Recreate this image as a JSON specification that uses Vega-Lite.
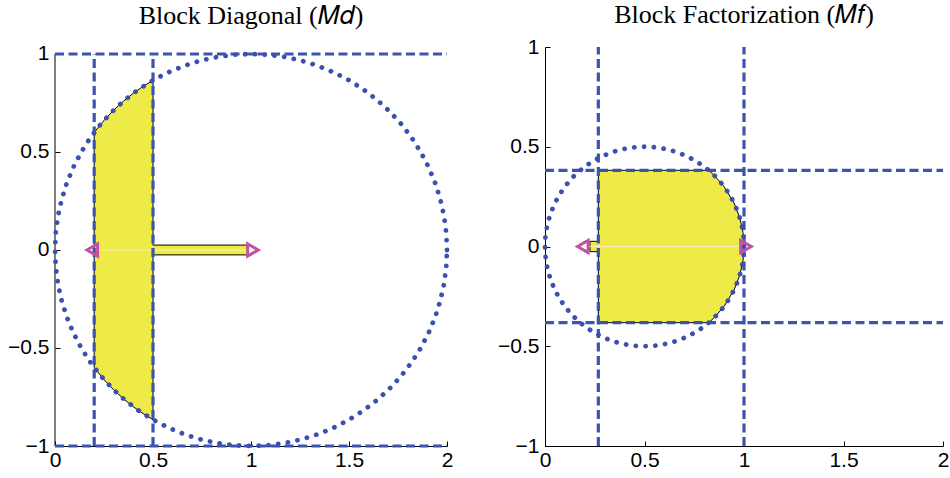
{
  "$schema": "https://vega.github.io/schema/vega-lite/v6.json",
  "background": "white",
  "padding": {"left": 7, "top": 2, "right": 5, "bottom": 0},
  "spacing": 40,
  "config": {
    "view": {"stroke": null},
    "axis": {
      "grid": false, "domainColor": "black", "domainWidth": 1, "tickColor": "black", "tickWidth": 1,
      "tickSize": -5, "labelFont": "Liberation Sans", "labelFontSize": 21, "labelColor": "black",
      "title": null, "labelFlush": false, "labelOverlap": false, "format": "~g"
    },
    "title": {"font": "Liberation Serif", "fontSize": 26, "fontWeight": "normal", "color": "black", "frame": "group", "baseline": "alphabetic", "anchor": "middle"}
  },
  "datasets": {
    "circleL": [
      {"i":0,"x":2,"y":0},{"i":1,"x":1.9962,"y":0.0872},{"i":2,"x":1.9848,"y":0.1736},{"i":3,"x":1.9659,"y":0.2588},{"i":4,"x":1.9397,"y":0.342},{"i":5,"x":1.9063,"y":0.4226},{"i":6,"x":1.866,"y":0.5},{"i":7,"x":1.8192,"y":0.5736},{"i":8,"x":1.766,"y":0.6428},{"i":9,"x":1.7071,"y":0.7071},{"i":10,"x":1.6428,"y":0.766},{"i":11,"x":1.5736,"y":0.8192},{"i":12,"x":1.5,"y":0.866},{"i":13,"x":1.4226,"y":0.9063},{"i":14,"x":1.342,"y":0.9397},{"i":15,"x":1.2588,"y":0.9659},{"i":16,"x":1.1736,"y":0.9848},{"i":17,"x":1.0872,"y":0.9962},{"i":18,"x":1,"y":1},{"i":19,"x":0.9128,"y":0.9962},{"i":20,"x":0.8264,"y":0.9848},{"i":21,"x":0.7412,"y":0.9659},{"i":22,"x":0.658,"y":0.9397},{"i":23,"x":0.5774,"y":0.9063},{"i":24,"x":0.5,"y":0.866},{"i":25,"x":0.4264,"y":0.8192},{"i":26,"x":0.3572,"y":0.766},{"i":27,"x":0.2929,"y":0.7071},{"i":28,"x":0.234,"y":0.6428},{"i":29,"x":0.1808,"y":0.5736},{"i":30,"x":0.134,"y":0.5},{"i":31,"x":0.0937,"y":0.4226},{"i":32,"x":0.0603,"y":0.342},{"i":33,"x":0.0341,"y":0.2588},{"i":34,"x":0.0152,"y":0.1736},{"i":35,"x":0.0038,"y":0.0872},{"i":36,"x":0,"y":0},{"i":37,"x":0.0038,"y":-0.0872},{"i":38,"x":0.0152,"y":-0.1736},{"i":39,"x":0.0341,"y":-0.2588},{"i":40,"x":0.0603,"y":-0.342},{"i":41,"x":0.0937,"y":-0.4226},{"i":42,"x":0.134,"y":-0.5},{"i":43,"x":0.1808,"y":-0.5736},{"i":44,"x":0.234,"y":-0.6428},{"i":45,"x":0.2929,"y":-0.7071},{"i":46,"x":0.3572,"y":-0.766},{"i":47,"x":0.4264,"y":-0.8192},{"i":48,"x":0.5,"y":-0.866},{"i":49,"x":0.5774,"y":-0.9063},{"i":50,"x":0.658,"y":-0.9397},{"i":51,"x":0.7412,"y":-0.9659},{"i":52,"x":0.8264,"y":-0.9848},{"i":53,"x":0.9128,"y":-0.9962},{"i":54,"x":1,"y":-1},{"i":55,"x":1.0872,"y":-0.9962},{"i":56,"x":1.1736,"y":-0.9848},{"i":57,"x":1.2588,"y":-0.9659},{"i":58,"x":1.342,"y":-0.9397},{"i":59,"x":1.4226,"y":-0.9063},{"i":60,"x":1.5,"y":-0.866},{"i":61,"x":1.5736,"y":-0.8192},{"i":62,"x":1.6428,"y":-0.766},{"i":63,"x":1.7071,"y":-0.7071},{"i":64,"x":1.766,"y":-0.6428},{"i":65,"x":1.8192,"y":-0.5736},{"i":66,"x":1.866,"y":-0.5},{"i":67,"x":1.9063,"y":-0.4226},{"i":68,"x":1.9397,"y":-0.342},{"i":69,"x":1.9659,"y":-0.2588},{"i":70,"x":1.9848,"y":-0.1736},{"i":71,"x":1.9962,"y":-0.0872},{"i":72,"x":2,"y":0}
    ],
    "circleR": [
      {"i":0,"x":1,"y":0},{"i":1,"x":0.9981,"y":0.0436},{"i":2,"x":0.9924,"y":0.0868},{"i":3,"x":0.983,"y":0.1294},{"i":4,"x":0.9698,"y":0.171},{"i":5,"x":0.9532,"y":0.2113},{"i":6,"x":0.933,"y":0.25},{"i":7,"x":0.9096,"y":0.2868},{"i":8,"x":0.883,"y":0.3214},{"i":9,"x":0.8536,"y":0.3536},{"i":10,"x":0.8214,"y":0.383},{"i":11,"x":0.7868,"y":0.4096},{"i":12,"x":0.75,"y":0.433},{"i":13,"x":0.7113,"y":0.4532},{"i":14,"x":0.671,"y":0.4698},{"i":15,"x":0.6294,"y":0.483},{"i":16,"x":0.5868,"y":0.4924},{"i":17,"x":0.5436,"y":0.4981},{"i":18,"x":0.5,"y":0.5},{"i":19,"x":0.4564,"y":0.4981},{"i":20,"x":0.4132,"y":0.4924},{"i":21,"x":0.3706,"y":0.483},{"i":22,"x":0.329,"y":0.4698},{"i":23,"x":0.2887,"y":0.4532},{"i":24,"x":0.25,"y":0.433},{"i":25,"x":0.2132,"y":0.4096},{"i":26,"x":0.1786,"y":0.383},{"i":27,"x":0.1464,"y":0.3536},{"i":28,"x":0.117,"y":0.3214},{"i":29,"x":0.0904,"y":0.2868},{"i":30,"x":0.067,"y":0.25},{"i":31,"x":0.0468,"y":0.2113},{"i":32,"x":0.0302,"y":0.171},{"i":33,"x":0.017,"y":0.1294},{"i":34,"x":0.0076,"y":0.0868},{"i":35,"x":0.0019,"y":0.0436},{"i":36,"x":0,"y":0},{"i":37,"x":0.0019,"y":-0.0436},{"i":38,"x":0.0076,"y":-0.0868},{"i":39,"x":0.017,"y":-0.1294},{"i":40,"x":0.0302,"y":-0.171},{"i":41,"x":0.0468,"y":-0.2113},{"i":42,"x":0.067,"y":-0.25},{"i":43,"x":0.0904,"y":-0.2868},{"i":44,"x":0.117,"y":-0.3214},{"i":45,"x":0.1464,"y":-0.3536},{"i":46,"x":0.1786,"y":-0.383},{"i":47,"x":0.2132,"y":-0.4096},{"i":48,"x":0.25,"y":-0.433},{"i":49,"x":0.2887,"y":-0.4532},{"i":50,"x":0.329,"y":-0.4698},{"i":51,"x":0.3706,"y":-0.483},{"i":52,"x":0.4132,"y":-0.4924},{"i":53,"x":0.4564,"y":-0.4981},{"i":54,"x":0.5,"y":-0.5},{"i":55,"x":0.5436,"y":-0.4981},{"i":56,"x":0.5868,"y":-0.4924},{"i":57,"x":0.6294,"y":-0.483},{"i":58,"x":0.671,"y":-0.4698},{"i":59,"x":0.7113,"y":-0.4532},{"i":60,"x":0.75,"y":-0.433},{"i":61,"x":0.7868,"y":-0.4096},{"i":62,"x":0.8214,"y":-0.383},{"i":63,"x":0.8536,"y":-0.3536},{"i":64,"x":0.883,"y":-0.3214},{"i":65,"x":0.9096,"y":-0.2868},{"i":66,"x":0.933,"y":-0.25},{"i":67,"x":0.9532,"y":-0.2113},{"i":68,"x":0.9698,"y":-0.171},{"i":69,"x":0.983,"y":-0.1294},{"i":70,"x":0.9924,"y":-0.0868},{"i":71,"x":0.9981,"y":-0.0436},{"i":72,"x":1,"y":0}
    ],
    "regionL": [
      {"x":0.2,"y":-0.6,"y2":0.6},{"x":0.25,"y":-0.6614,"y2":0.6614},{"x":0.3,"y":-0.7141,"y2":0.7141},{"x":0.35,"y":-0.7599,"y2":0.7599},{"x":0.4,"y":-0.8,"y2":0.8},{"x":0.45,"y":-0.8352,"y2":0.8352},{"x":0.5,"y":-0.866,"y2":0.866},{"x":0.5001,"y":-0.025,"y2":0.025},{"x":0.985,"y":-0.025,"y2":0.025}
    ],
    "regionR": [
      {"x":0.226,"y":-0.026,"y2":0.026},{"x":0.268,"y":-0.026,"y2":0.026},{"x":0.2681,"y":-0.382,"y2":0.382},{"x":0.8225,"y":-0.382,"y2":0.382},{"x":0.85,"y":-0.357,"y2":0.357},{"x":0.9,"y":-0.3,"y2":0.3},{"x":0.95,"y":-0.218,"y2":0.218},{"x":0.98,"y":-0.14,"y2":0.14},{"x":0.995,"y":-0.0705,"y2":0.0705},{"x":1,"y":0,"y2":0}
    ],
    "axisL": [
      {"x":0,"x2":0,"y":-1,"y2":1}
    ],
    "dashL": [
      {"x":0.2,"x2":0.2,"y":-1,"y2":1},{"x":0.5,"x2":0.5,"y":-1,"y2":1},{"x":0,"x2":2,"y":1,"y2":1},{"x":0,"x2":2,"y":-1,"y2":-1}
    ],
    "dashR": [
      {"x":0.268,"x2":0.268,"y":-1,"y2":1},{"x":1,"x2":1,"y":-1,"y2":1},{"x":0,"x2":2,"y":0.382,"y2":0.382},{"x":0,"x2":2,"y":-0.382,"y2":-0.382}
    ],
    "axisLine": [
      {"x":0.19,"x2":1.01,"y":0,"y2":0}
    ],
    "markers": [
      {"x":0.19,"y":0,"dir":"left"},{"x":1.01,"y":0,"dir":"right"}
    ]
  },
  "hconcat": [
    {
      "width": 392, "height": 399,
      "title": {"text": "Block Diagonal (𝑀𝑑)", "offset": 14},
      "encoding": {
        "x": {"field": "x", "type": "quantitative", "scale": {"domain": [0, 2], "nice": false, "zero": false}, "axis": {"values": [0, 0.5, 1, 1.5, 2], "labelPadding": 8}},
        "y": {"field": "y", "type": "quantitative", "scale": {"domain": [-1, 1.0357], "nice": false, "zero": false}, "axis": {"values": [-1, -0.5, 0, 0.5, 1], "labelPadding": 11, "domain": false}}
      },
      "layer": [
        {"data": {"name": "regionL"}, "mark": {"type": "area", "color": "#eeea48", "stroke": "black", "strokeWidth": 1, "opacity": 1}, "encoding": {"y2": {"field": "y2"}}},
        {"data": {"name": "axisL"}, "mark": {"type": "rule", "color": "black", "strokeWidth": 1}, "encoding": {"x2": {"field": "x2"}, "y2": {"field": "y2"}}},
        {"data": {"name": "axisLine"}, "mark": {"type": "rule", "color": "#f6f3b4", "strokeWidth": 1}, "encoding": {"x2": {"field": "x2"}, "y2": {"field": "y2"}}},
        {"data": {"name": "dashL"}, "mark": {"type": "rule", "color": "#3b54ad", "strokeWidth": 3.2, "strokeDash": [9, 4.5]}, "encoding": {"x2": {"field": "x2"}, "y2": {"field": "y2"}}},
        {"data": {"name": "circleL"}, "mark": {"type": "line", "color": "#3b50b0", "strokeWidth": 4.8, "strokeDash": [0.1, 9.7], "strokeCap": "round"}, "encoding": {"order": {"field": "i"}}},
        {"data": {"name": "markers"}, "mark": {"type": "point", "filled": false, "color": "#c052a6", "strokeWidth": 3, "size": 150, "opacity": 1}, "encoding": {"shape": {"field": "dir", "type": "nominal", "scale": {"domain": ["left", "right"], "range": ["triangle-left", "triangle-right"]}, "legend": null}}}
      ]
    },
    {
      "width": 398, "height": 399,
      "title": {"text": "Block Factorization (𝑀𝑓)", "offset": 8},
      "encoding": {
        "x": {"field": "x", "type": "quantitative", "scale": {"domain": [0, 2], "nice": false, "zero": false}, "axis": {"values": [0, 0.5, 1, 1.5, 2], "labelPadding": 8}},
        "y": {"field": "y", "type": "quantitative", "scale": {"domain": [-1, 1], "nice": false, "zero": false}, "axis": {"values": [-1, -0.5, 0, 0.5, 1], "labelPadding": 11}}
      },
      "layer": [
        {"data": {"name": "regionR"}, "mark": {"type": "area", "color": "#eeea48", "stroke": "black", "strokeWidth": 1, "opacity": 1}, "encoding": {"y2": {"field": "y2"}}},
        {"data": {"name": "axisLine"}, "mark": {"type": "rule", "color": "#f6f3b4", "strokeWidth": 1}, "encoding": {"x2": {"field": "x2"}, "y2": {"field": "y2"}}},
        {"data": {"name": "dashR"}, "mark": {"type": "rule", "color": "#3b54ad", "strokeWidth": 3.2, "strokeDash": [9, 4.5]}, "encoding": {"x2": {"field": "x2"}, "y2": {"field": "y2"}}},
        {"data": {"name": "circleR"}, "mark": {"type": "line", "color": "#3b50b0", "strokeWidth": 4.8, "strokeDash": [0.1, 9.7], "strokeCap": "round"}, "encoding": {"order": {"field": "i"}}},
        {"data": {"name": "markers"}, "mark": {"type": "point", "filled": false, "color": "#c052a6", "strokeWidth": 3, "size": 150, "opacity": 1}, "encoding": {"shape": {"field": "dir", "type": "nominal", "scale": {"domain": ["left", "right"], "range": ["triangle-left", "triangle-right"]}, "legend": null}}}
      ]
    }
  ]
}
